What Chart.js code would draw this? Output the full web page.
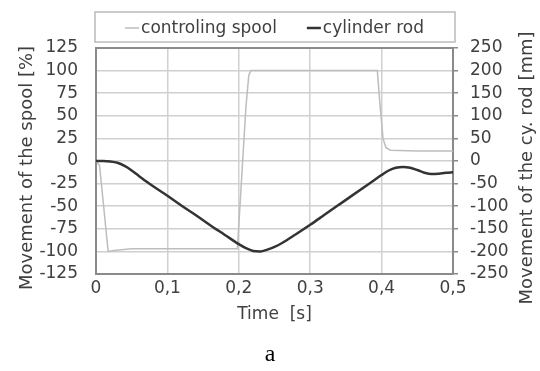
<!DOCTYPE html>
<html>
<head>
<meta charset="utf-8">
<script src="https://cdn.jsdelivr.net/npm/chart.js@4.4.1/dist/chart.umd.min.js"></script>
<style>
    html, body { margin: 0; padding: 0; background: #fff; }
    #wrap { width: 540px; height: 371px; }
</style>
</head>
<body>
<div id="wrap"><canvas id="chart" width="540" height="371"></canvas></div>
<script>
/* global Chart */

// Spool position [%] on the left axis, rod position [mm] on the right axis, time in s
const spoolTime = [0, 0.005, 0.017, 0.025, 0.05, 0.1, 0.15, 0.198, 0.21, 0.214, 0.217, 0.394, 0.398, 0.402, 0.406, 0.412, 0.45, 0.5];
const spoolValue = [0, -5, -100, -99, -97, -97, -97, -97, 60, 95, 100, 100, 60, 25, 15, 12, 11, 11];

const rodTime = [0, 0.01, 0.02, 0.03, 0.04, 0.05, 0.06, 0.07, 0.08, 0.1, 0.12, 0.14, 0.16, 0.18, 0.2, 0.21, 0.22, 0.23, 0.24, 0.25, 0.26, 0.28, 0.3, 0.32, 0.34, 0.36, 0.38, 0.39, 0.4, 0.41, 0.42, 0.43, 0.44, 0.45, 0.46, 0.47, 0.48, 0.49, 0.5];
const rodValue = [0, 0, -1, -4, -11, -21, -33, -45, -56, -77, -99, -120, -142, -163, -184, -193, -199, -200, -196, -190, -182, -162, -141, -119, -97, -75, -53, -42, -31, -21, -15, -13, -15, -20, -26, -29, -28, -26, -25];

const xTickLabels = ['0', '0,1', '0,2', '0,3', '0,4', '0,5'];

const labels = ['controling spool', 'cylinder rod'];
const leftTitle = 'Movement of the spool [%]';
const rightTitle = 'Movement of the cy. rod [mm]';

const TEXT = '#404040';
const FRAME = '#8a8a8a';
const GRID = '#d0d0d0';
const tickFont = { family: 'DejaVu Sans', size: 17 };

// legend with its frame, and both y titles read bottom to top
const extras = {
    id: 'extras',
    afterDraw(chart) {
        const { ctx, chartArea: a } = chart;
        ctx.save();

        ctx.strokeStyle = '#bbb';
        ctx.lineWidth = 1.5;
        ctx.strokeRect(a.left - 1, a.top - 36, a.right - a.left + 3, 30);

        ctx.font = '17px "DejaVu Sans"';
        ctx.textBaseline = 'middle';
        ctx.textAlign = 'left';
        const sample = 14, gap = 2, between = 30;
        const sets = chart.data.datasets;
        const widths = sets.map(d => sample + gap + ctx.measureText(d.label).width);
        const total = widths.reduce((s, w) => s + w, 0) + between * (sets.length - 1);
        let x = (a.left + a.right) / 2 - total / 2;
        const y = a.top - 19;
        sets.forEach((d, i) => {
            ctx.strokeStyle = d.borderColor;
            ctx.lineWidth = d.borderWidth;
            ctx.beginPath();
            ctx.moveTo(x, y - 1);
            ctx.lineTo(x + sample, y - 1);
            ctx.stroke();
            ctx.fillStyle = TEXT;
            ctx.fillText(d.label, x + sample + gap, y);
            x += widths[i] + between;
        });

        ctx.font = '18px "DejaVu Sans"';
        ctx.textAlign = 'center';
        ctx.fillStyle = TEXT;
        const cy = (a.top + a.bottom) / 2 + 7;
        [[27, leftTitle], [527, rightTitle]].forEach(([tx, text]) => {
            ctx.save();
            ctx.translate(tx, cy);
            ctx.rotate(-Math.PI / 2);
            ctx.fillText(text, 0, 0);
            ctx.restore();
        });
        ctx.restore();
    }
};

const edgeColor = (isEdge) => isEdge ? FRAME : GRID;

new Chart(document.getElementById('chart'), {
    type: 'line',
    data: {
        datasets: [
            {
                label: labels[0],
                data: spoolTime.map((t, i) => ({ x: t, y: spoolValue[i] })),
                yAxisID: 'y',
                borderColor: '#bdbdbd',
                borderWidth: 1.5,
                pointRadius: 0,
                tension: 0,
                order: 1,
            },
            {
                label: labels[1],
                data: rodTime.map((t, i) => ({ x: t, y: rodValue[i] })),
                yAxisID: 'y2',
                borderColor: '#333',
                borderWidth: 2.5,
                pointRadius: 0,
                cubicInterpolationMode: 'monotone',
                order: 0,
            },
        ]
    },
    options: {
        responsive: false,
        animation: false,
        layout: { padding: { top: 48, left: 0, right: 0, bottom: 0 } },
        plugins: {
            legend: { display: false },
            tooltip: { enabled: false },
            subtitle: {
                display: true,
                text: 'a',
                position: 'bottom',
                color: '#000',
                font: { family: 'Liberation Serif', size: 24, weight: 'normal' },
                padding: { top: 0, bottom: 2 },
            },
        },
        scales: {
            x: {
                type: 'linear',
                min: 0,
                max: 0.5,
                afterFit: (s) => { s.height = 66.2; },
                ticks: {
                    stepSize: 0.1,
                    padding: 4,
                    color: TEXT,
                    font: tickFont,
                    maxRotation: 0,
                    autoSkip: false,
                    callback: (value, index) => xTickLabels[index],
                },
                grid: {
                    drawTicks: false,
                    color: (c) => edgeColor(c.tick && (c.tick.value < 1e-9 || Math.abs(c.tick.value - 0.5) < 1e-9)),
                    lineWidth: 1.5,
                },
                border: { color: FRAME, width: 2 },
                title: {
                    display: true,
                    text: 'Time  [s]',
                    color: TEXT,
                    font: tickFont,
                    padding: { top: 0, bottom: 15 },
                },
            },
            y: {
                position: 'left',
                min: -125,
                max: 125,
                afterFit: (s) => { s.width = 96; },
                ticks: { stepSize: 25, padding: 18, color: TEXT, font: tickFont, autoSkip: false },
                grid: {
                    drawTicks: false,
                    color: (c) => edgeColor(c.tick && Math.abs(c.tick.value) === 125),
                    lineWidth: (c) => c.tick && Math.abs(c.tick.value) === 125 ? 2 : 1.5,
                },
                border: { color: FRAME, width: 2 },
            },
            y2: {
                position: 'right',
                min: -250,
                max: 250,
                afterFit: (s) => { s.width = 87; },
                ticks: { stepSize: 50, padding: 12, color: TEXT, font: tickFont, autoSkip: false },
                grid: {
                    drawOnChartArea: false,
                    drawTicks: true,
                    tickLength: 5,
                    color: FRAME,
                    lineWidth: 1.5,
                },
                border: { color: FRAME, width: 2 },
            },
        }
    },
    plugins: [extras]
});
</script>
</body>
</html>
